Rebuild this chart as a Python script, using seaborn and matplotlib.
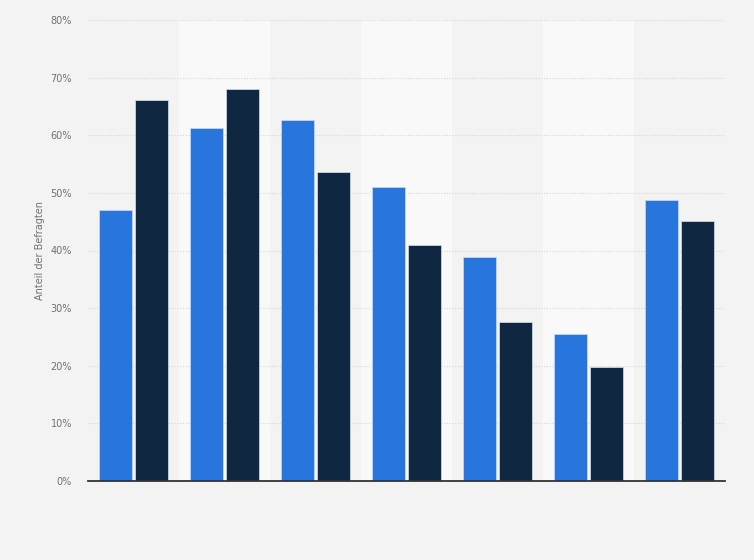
import seaborn as sns
import matplotlib.pyplot as plt
import pandas as pd
from matplotlib.ticker import FuncFormatter

# Werte (in %)
categories = ["A", "B", "C", "D", "E", "F", "G"]
series_1 = [47, 61.3, 62.6, 51, 38.9, 25.5, 48.8]
series_2 = [66.1, 68, 53.6, 41, 27.6, 19.7, 45.1]
series_names = ["Serie 1", "Serie 2"]
y_ticks = [0, 10, 20, 30, 40, 50, 60, 70, 80]

df = pd.DataFrame({
    "Kategorie": categories * 2,
    "Serie": [series_names[0]] * len(categories) + [series_names[1]] * len(categories),
    "Wert": series_1 + series_2,
})

sns.set_style("white")
plt.rcParams["font.family"] = ["DejaVu Sans"]

bg = "#f3f3f3"
fig = plt.figure(figsize=(7.54, 5.60), dpi=100, facecolor=bg)
ax = fig.add_axes([88 / 754, 1 - 481 / 560, (725 - 88) / 754, (481 - 20) / 560])
ax.set_facecolor(bg)

# helle Spalten hinter jeder zweiten Gruppe
for i in range(1, len(categories), 2):
    ax.axvspan(i - 0.5, i + 0.5, color="#f9f9f9", zorder=0, lw=0)

sns.barplot(data=df, x="Kategorie", y="Wert", hue="Serie",
            palette=["#2876dd", "#0f2740"], saturation=1, width=0.8, gap=0.08,
            edgecolor="#c8d4e2", linewidth=0.6, legend=False, ax=ax, zorder=3)

ax.set_xlim(-0.5, len(categories) - 0.5)
ax.set_ylim(0, 80)
ax.set_yticks(y_ticks)
ax.yaxis.set_major_formatter(FuncFormatter(lambda v, p: f"{v:.0f}%"))
ax.grid(axis="y", color="#d6d6d6", linestyle=(0, (1, 1.5)), linewidth=0.8, zorder=1)
ax.set_axisbelow(True)

ax.set_xticks([])
ax.set_xlabel("")
ax.set_ylabel("Anteil der Befragten", fontsize=7, color="#707070")
ax.yaxis.set_label_coords(-0.067, 0.5)
ax.tick_params(axis="y", length=0, labelsize=7, labelcolor="#707070", pad=11.5)

for side in ["top", "right", "left"]:
    ax.spines[side].set_visible(False)
ax.spines["bottom"].set_color("#333333")
ax.spines["bottom"].set_linewidth(1.3)
ax.spines["bottom"].set_zorder(5)

plt.savefig("out.png", dpi=100, facecolor=bg)
